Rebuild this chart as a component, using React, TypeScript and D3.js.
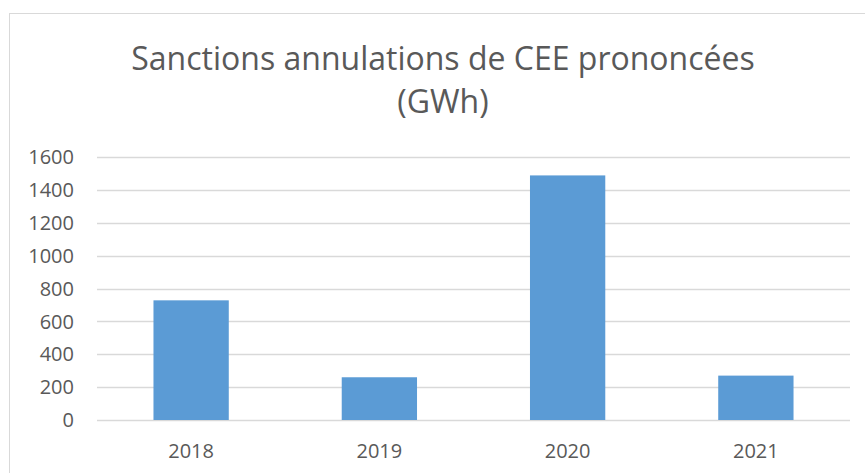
import * as d3 from 'd3'
import React from 'react'

// values
const years = ['2018', '2019', '2020', '2021']
const sanctions = [728, 260, 1488, 270]
const yTicks = [0, 200, 400, 600, 800, 1000, 1200, 1400, 1600]
const titleLines = ['Sanctions annulations de CEE prononcées', '(GWh)']

const width = 865
const height = 473

export default function App() {
    const ref = React.useRef<SVGSVGElement>(null)

    React.useEffect(() => {
        const svg = d3.select(ref.current)
        svg.selectAll('*').remove()

        const left = 97, right = 850, top = 157, bottom = 420
        const font = '"Open Sans", sans-serif'

        // outer frame, runs off the right and bottom edges
        svg.append('rect')
            .attr('x', 9.5).attr('y', 13.5)
            .attr('width', 869).attr('height', 480)
            .attr('fill', '#fff')
            .attr('stroke', '#d9d9d9')

        svg.selectAll('.title')
            .data(titleLines)
            .enter().append('text')
            .attr('class', 'title')
            .attr('x', 443)
            .attr('y', (d, i) => 70 + i * 43)
            .attr('text-anchor', 'middle')
            .attr('font-family', font)
            .attr('font-size', 32)
            .attr('fill', '#595959')
            .text(d => d)

        const x = d3.scaleBand().domain(years).range([left, right]).paddingInner(0.6).paddingOuter(0.3)
        const y = d3.scaleLinear().domain([0, 1600]).range([bottom, top])

        svg.append('g')
            .selectAll('line')
            .data(yTicks)
            .enter().append('line')
            .attr('x1', left).attr('x2', right)
            .attr('y1', d => Math.round(y(d)) + 0.5)
            .attr('y2', d => Math.round(y(d)) + 0.5)
            .attr('stroke', '#d9d9d9')
            .attr('stroke-width', 1.3)

        svg.append('g')
            .selectAll('text')
            .data(yTicks)
            .enter().append('text')
            .attr('x', 74)
            .attr('y', d => y(d))
            .attr('dy', '0.36em')
            .attr('text-anchor', 'end')
            .attr('font-family', font)
            .attr('font-size', 20)
            .attr('fill', '#595959')
            .text(d => d)

        svg.append('g')
            .selectAll('rect')
            .data(sanctions)
            .enter().append('rect')
            .attr('x', (d, i) => x(years[i]) as number)
            .attr('width', x.bandwidth())
            .attr('y', d => y(d))
            .attr('height', d => bottom - y(d))
            .attr('fill', '#5b9bd5')

        svg.append('g')
            .selectAll('text')
            .data(years)
            .enter().append('text')
            .attr('x', d => (x(d) as number) + x.bandwidth() / 2)
            .attr('y', 458)
            .attr('text-anchor', 'middle')
            .attr('font-family', font)
            .attr('font-size', 20)
            .attr('fill', '#595959')
            .text(d => d)
    }, [])

    return (
        <svg ref={ref} width={width} height={height}
            style={{ position: 'absolute', left: 0, top: 0, background: '#fff' }} />
    )
}
